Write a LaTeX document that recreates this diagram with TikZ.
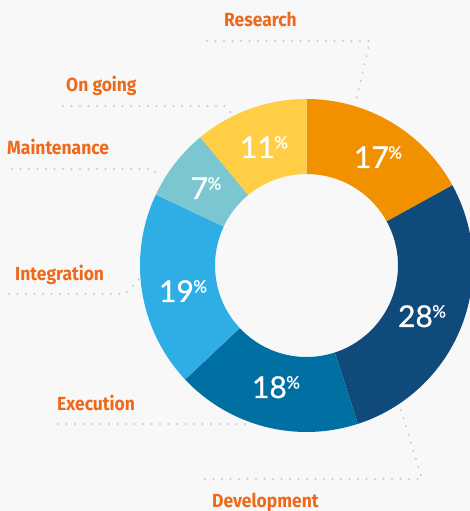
\documentclass[tikz,border=0pt]{standalone}
\usepackage{fontspec}
\setmainfont{Lato}
\newfontfamily\pctfont[FakeBold=0.9]{Lato}
\newfontfamily\lblfont[FakeStretch=0.92]{Fira Sans}
\usepackage{xcolor}
\definecolor{bg}{HTML}{F8F8F8}
\definecolor{lblorange}{HTML}{EE6A1A}
\definecolor{dotgray}{HTML}{C9C9C9}
\definecolor{research}{HTML}{F29100}
\definecolor{develop}{HTML}{0F4A7B}
\definecolor{execute}{HTML}{0070A3}
\definecolor{integrate}{HTML}{2FAEE5}
\definecolor{maintain}{HTML}{7AC7D1}
\definecolor{ongoing}{HTML}{FFCE44}
\usetikzlibrary{calc}
\tikzstyle{lbl} = [anchor=base west, inner sep=0pt, text=lblorange, font=\lblfont\bfseries\fontsize{19}{19}\selectfont]
\tikzstyle{pct} = [anchor=base, inner sep=0pt, text=white, font=\pctfont\fontsize{30}{30}\selectfont]
\tikzstyle{leader} = [draw=dotgray, line width=2.2pt, line cap=round, dash pattern=on 0pt off 8.5pt]
\newcommand{\pc}[1]{#1\kern-0.5pt\raisebox{9.5pt}{\fontsize{17}{17}\selectfont\%}}

\begin{document}
\begin{tikzpicture}[x=1pt, y=1pt]
    % background
    \fill[bg] (0,0) rectangle (470,511);
    \useasboundingbox (0,0) rectangle (470,511);
    \coordinate (ctr) at (306.5,245.5);

    % ring
    \foreach \a/\b/\c in {90/28.8/research, 28.8/-72/develop, -72/-136.8/execute,
                          -136.8/-205.2/integrate, 154.8/129.6/maintain, 129.6/90/ongoing}
        \fill[\c] ($(ctr)+(\a:166.5)$) arc[start angle=\a, end angle=\b, radius=166.5]
        -- ($(ctr)+(\b:91.5)$) arc[start angle=\b, end angle=\a, radius=91.5] -- cycle;

    % percentages
    \node[pct] (p-research) at (378,343) {\pc{17}};
    \node[pct] (p-develop) at (422,184) {\pc{28}};
    \node[pct] (p-execute) at (276,113) {\pc{18}};
    \node[pct] (p-integrate) at (183,209) {\pc{19}};
    \node[pct] (p-maintain) at (206,312) {\pc{7}};
    \node[pct] (p-ongoing) at (264,353) {\pc{11}};

    % labels
    \node[lbl] (research) at (224,484.3) {Research};
    \node[lbl] (ongoing) at (66,419.3) {On going};
    \node[lbl] (maintain) at (7,356) {Maintenance};
    \node[lbl] (integrate) at (15,230) {Integration};
    \node[lbl] (execute) at (57,100.3) {Execution};
    \node[lbl] (develop) at (212,4) {Development};

    % leader points
    \coordinate (research-a) at (207,470);
    \coordinate (research-b) at (370,470);
    \coordinate (research-c) at (356,411);
    \coordinate (ongoing-a) at (63,405);
    \coordinate (ongoing-b) at (225,405);
    \coordinate (ongoing-c) at (231,398);
    \coordinate (maintain-a) at (12,342);
    \coordinate (maintain-b) at (152,342);
    \coordinate (maintain-c) at (160,334);
    \coordinate (integrate-a) at (9,217);
    \coordinate (integrate-b) at (125,217);
    \coordinate (integrate-c) at (139,232);
    \coordinate (execute-a) at (58,87);
    \coordinate (execute-b) at (248,87);
    \coordinate (develop-a) at (205,32);
    \coordinate (develop-b) at (422,32);
    \coordinate (develop-c) at (400,104);

    % leaders
    \draw[leader] (research-a) -- (research-b) -- (research-c);
    \draw[leader] (ongoing-a) -- (ongoing-b) -- (ongoing-c);
    \draw[leader] (maintain-a) -- (maintain-b) -- (maintain-c);
    \draw[leader] (integrate-a) -- (integrate-b) -- (integrate-c);
    \draw[leader] (execute-a) -- (execute-b);
    \draw[leader] (develop-a) -- (develop-b) -- (develop-c);
\end{tikzpicture}
\end{document}
